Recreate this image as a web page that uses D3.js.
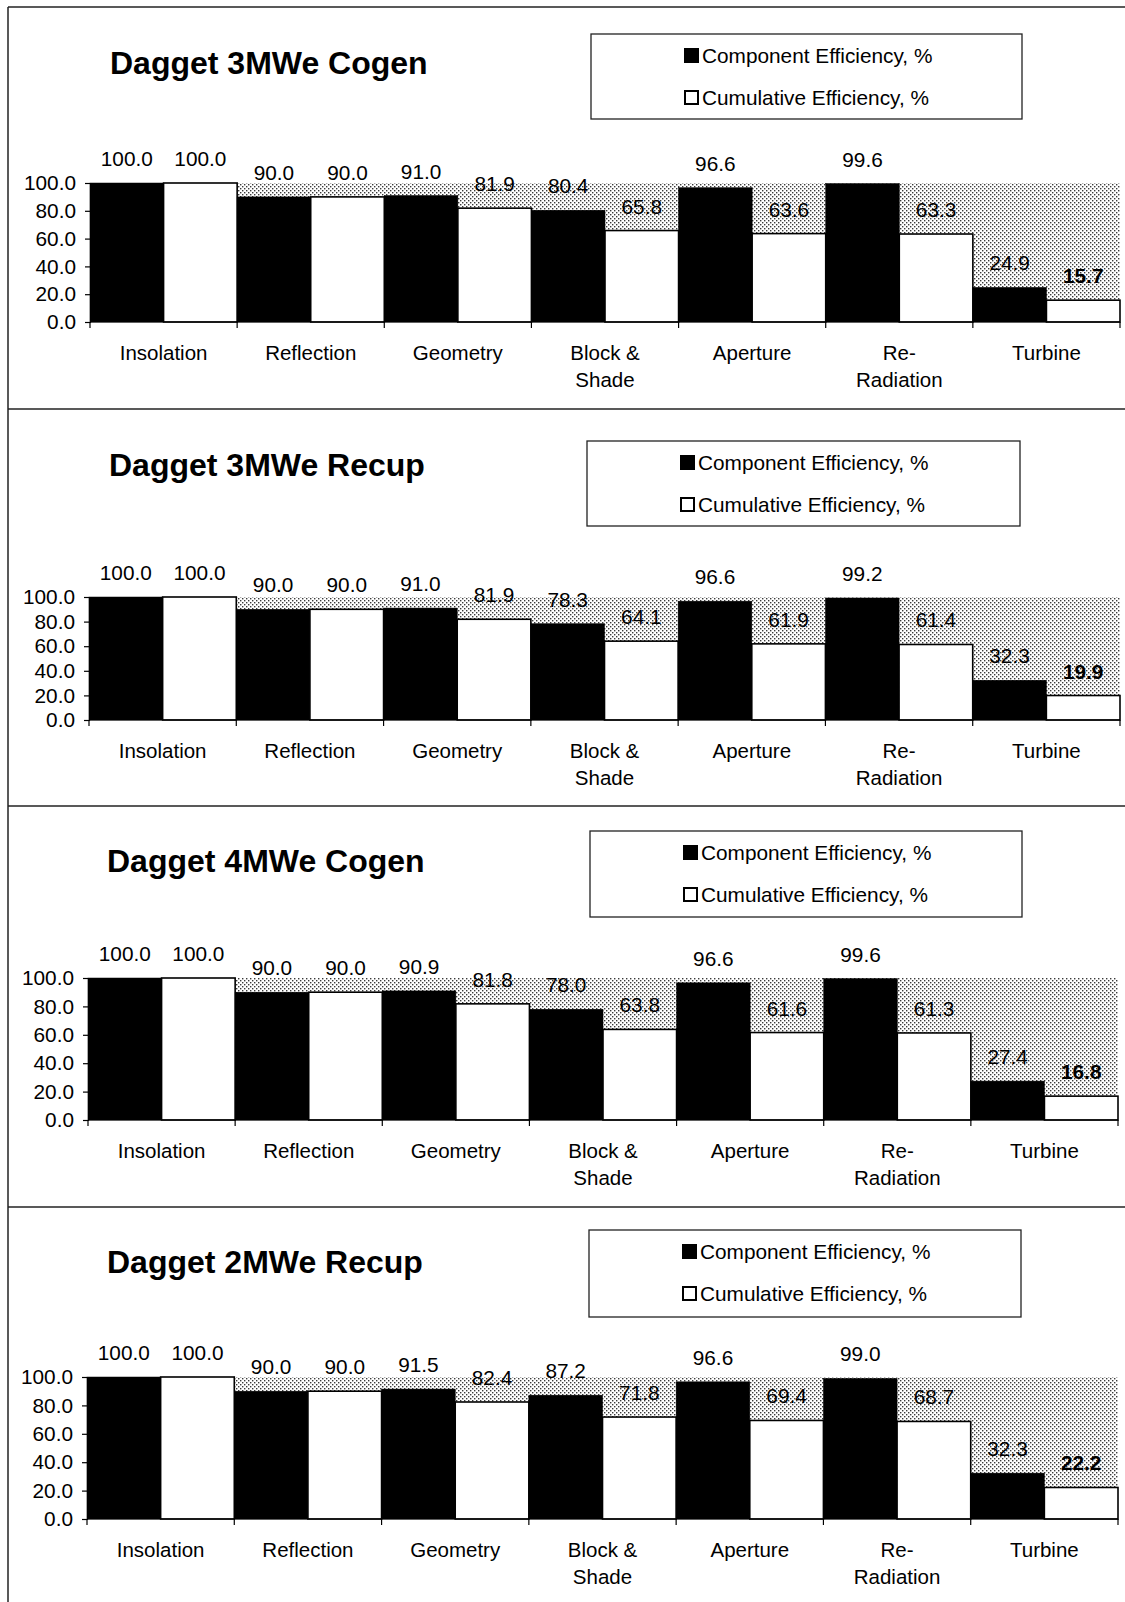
<!DOCTYPE html>
<html><head><meta charset="utf-8">
<script src="https://cdn.jsdelivr.net/npm/d3@7"></script>
<style>html,body{margin:0;padding:0;background:#fff;} svg{display:block;}</style>
</head><body>
<script>
// ---------- data ----------
const categories = ["Insolation","Reflection","Geometry","Block & Shade","Aperture","Re- Radiation","Turbine"];
const categoryLines = [["Insolation"],["Reflection"],["Geometry"],["Block &","Shade"],["Aperture"],["Re-","Radiation"],["Turbine"]];
const seriesNames = ["Component Efficiency, %","Cumulative Efficiency, %"];
const yTickValues = [0, 20, 40, 60, 80, 100];
const titles = ["Dagget 3MWe Cogen","Dagget 3MWe Recup","Dagget 4MWe Cogen","Dagget 2MWe Recup"];

const component3Cogen  = [100.0, 90.0, 91.0, 80.4, 96.6, 99.6, 24.9];
const cumulative3Cogen = [100.0, 90.0, 81.9, 65.8, 63.6, 63.3, 15.7];
const component3Recup  = [100.0, 90.0, 91.0, 78.3, 96.6, 99.2, 32.3];
const cumulative3Recup = [100.0, 90.0, 81.9, 64.1, 61.9, 61.4, 19.9];
const component4Cogen  = [100.0, 90.0, 90.9, 78.0, 96.6, 99.6, 27.4];
const cumulative4Cogen = [100.0, 90.0, 81.8, 63.8, 61.6, 61.3, 16.8];
const component2Recup  = [100.0, 90.0, 91.5, 87.2, 96.6, 99.0, 32.3];
const cumulative2Recup = [100.0, 90.0, 82.4, 71.8, 69.4, 68.7, 22.2];

const panelComponent  = [component3Cogen, component3Recup, component4Cogen, component2Recup];
const panelCumulative = [cumulative3Cogen, cumulative3Recup, cumulative4Cogen, cumulative2Recup];

// ---------- layout ----------
const W = 1125, H = 1602;
const layout = [
  {top:7,    tx:110, tb:74,   lg:[591,34,431,85],   x0:90, x1:1120, yT:183, yB:322},
  {top:409,  tx:109, tb:476,  lg:[587,441,433,85],  x0:89, x1:1120, yT:597, yB:720},
  {top:806,  tx:107, tb:872,  lg:[590,831,432,86],  x0:88, x1:1118, yT:978, yB:1120},
  {top:1207, tx:107, tb:1273, lg:[589,1230,432,87], x0:87, x1:1118, yT:1377, yB:1519}
];
const FONT = "'Liberation Sans', Arial, Helvetica, sans-serif";

const svg = d3.select("body").append("svg").attr("width", W).attr("height", H)
  .style("font-family", FONT);

// stipple pattern
const defs = svg.append("defs");
const pat = defs.append("pattern").attr("id","stipple").attr("patternUnits","userSpaceOnUse")
  .attr("width",4).attr("height",4);
pat.append("rect").attr("width",4).attr("height",4).attr("fill","#ffffff");
pat.append("rect").attr("x",0).attr("y",0).attr("width",1.4).attr("height",1.4).attr("fill","#3a3a3a");
pat.append("rect").attr("x",2).attr("y",2).attr("width",1.4).attr("height",1.4).attr("fill","#3a3a3a");

// frame lines
svg.append("line").attr("x1",8).attr("x2",8).attr("y1",7).attr("y2",H)
  .attr("stroke","#222").attr("stroke-width",1.5);
layout.forEach(L => {
  svg.append("line").attr("x1",8).attr("x2",W).attr("y1",L.top).attr("y2",L.top)
    .attr("stroke","#222").attr("stroke-width",1.5);
});

layout.forEach((L, p) => {
  const g = svg.append("g");
  const comp = panelComponent[p], cum = panelCumulative[p];
  const rows = categories.map((c, i) => ({cat:c, i, vals:[comp[i], cum[i]]}));

  const x = d3.scaleBand().domain(categories).range([L.x0, L.x1]).padding(0);
  const xs = d3.scaleBand().domain([0,1]).range([0, x.bandwidth()]).padding(0);
  const y = d3.scaleLinear().domain([0,100]).range([L.yB, L.yT]);

  // title
  g.append("text").attr("x", L.tx).attr("y", L.tb).text(titles[p])
    .attr("font-size", 32).attr("font-weight", "bold").attr("fill","#000");

  // legend
  const [lx, ly, lw, lh] = L.lg;
  g.append("rect").attr("x", lx).attr("y", ly).attr("width", lw).attr("height", lh)
    .attr("fill","#fff").attr("stroke","#222").attr("stroke-width",1.3);
  seriesNames.forEach((s, k) => {
    const sy = ly + 14 + k*42;
    g.append("rect").attr("x", lx + 93 + (k?1:0)).attr("y", sy + (k?1:0))
      .attr("width", k?13:15).attr("height", k?13:15)
      .attr("fill", k ? "#fff" : "#000").attr("stroke","#000").attr("stroke-width", k?2:0);
    g.append("text").attr("x", lx + 111).attr("y", sy + 7.5).attr("dy","0.36em")
      .attr("font-size", 20.8).text(s);
  });

  // plot area stipple
  g.append("rect").attr("x", L.x0).attr("y", y(100)).attr("width", L.x1 - L.x0)
    .attr("height", y(0) - y(100)).attr("fill","url(#stipple)");

  // bars
  const cg = g.selectAll("g.cat").data(rows).join("g")
    .attr("transform", d => `translate(${x(d.cat)},0)`);
  cg.selectAll("rect").data(d => d.vals.map((v, k) => ({v, k, i:d.i}))).join("rect")
    .attr("x", d => xs(d.k)).attr("width", xs.bandwidth())
    .attr("y", d => y(d.v)).attr("height", d => y(0) - y(d.v))
    .attr("fill", d => d.k ? "#fff" : "#000")
    .attr("stroke", "#000").attr("stroke-width", d => d.k ? 1.6 : 0.5);

  // value labels
  cg.selectAll("text.val").data(d => d.vals.map((v, k) => ({v, k, i:d.i}))).join("text")
    .attr("class","val")
    .attr("x", d => xs(d.k) + xs.bandwidth()/2).attr("y", d => y(d.v) - 17)
    .attr("text-anchor","middle").attr("font-size", 20.8)
    .attr("font-weight", d => (d.k === 1 && d.i === categories.length - 1) ? "bold" : "normal")
    .text(d => d3.format(".1f")(d.v));

  // y axis
  const ya = g.append("g").attr("transform", `translate(${L.x0},0)`)
    .call(d3.axisLeft(y).tickValues(yTickValues).tickFormat(d3.format(".1f")).tickSize(5).tickPadding(9));
  ya.select(".domain").attr("stroke","#000").attr("stroke-width",1.2);
  ya.selectAll(".tick line").attr("stroke","#000").attr("stroke-width",1.2);
  ya.selectAll(".tick text").attr("font-size", 20.8).attr("font-family", FONT).attr("fill","#000");

  // x axis line + boundary ticks
  g.append("line").attr("x1", L.x0).attr("x2", L.x1).attr("y1", y(0)).attr("y2", y(0))
    .attr("stroke","#000").attr("stroke-width",1.2);
  const bounds = categories.map(c => x(c)).concat([L.x1]);
  g.selectAll("line.bt").data(bounds).join("line").attr("class","bt")
    .attr("x1", d => d).attr("x2", d => d).attr("y1", y(0)).attr("y2", y(0) + 6)
    .attr("stroke","#000").attr("stroke-width",1.2);

  // category labels
  const cl = g.selectAll("text.cat").data(categories).join("text").attr("class","cat")
    .attr("text-anchor","middle").attr("font-size", 20.5);
  cl.each(function(c, i) {
    const t = d3.select(this);
    categoryLines[i].forEach((line, j) => {
      t.append("tspan").attr("x", x(c) + x.bandwidth()/2)
        .attr("y", y(0) + 31 + j*26.5).attr("dy","0.36em").text(line);
    });
  });
});
</script>
</body></html>
